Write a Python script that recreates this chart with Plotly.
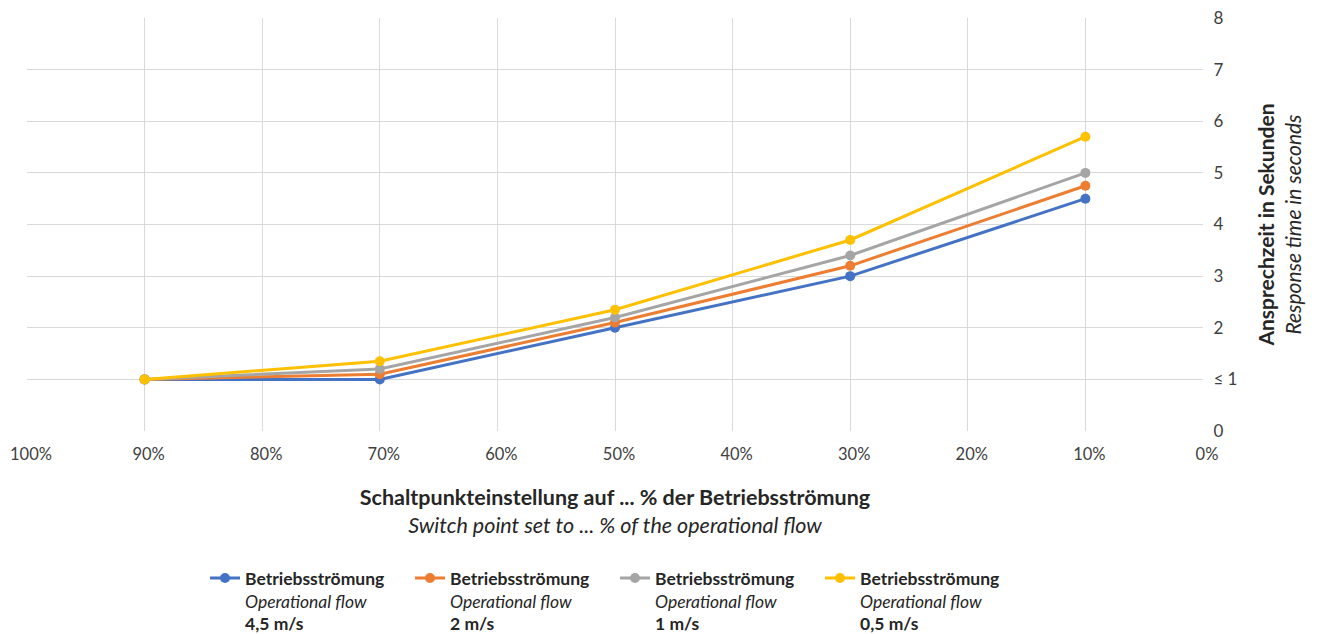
import plotly.graph_objects as go

x_vals = [90, 70, 50, 30, 10]
flow_45 = [1.0, 1.0, 2.0, 3.0, 4.5]
flow_2 = [1.0, 1.1, 2.1, 3.2, 4.75]
flow_1 = [1.0, 1.2, 2.2, 3.4, 5.0]
flow_05 = [1.0, 1.35, 2.35, 3.7, 5.7]

series_names = [
    "<b>Betriebsströmung</b><br><i>Operational flow</i><br><b>4,5 m/s</b>",
    "<b>Betriebsströmung</b><br><i>Operational flow</i><br><b>2 m/s</b>",
    "<b>Betriebsströmung</b><br><i>Operational flow</i><br><b>1 m/s</b>",
    "<b>Betriebsströmung</b><br><i>Operational flow</i><br><b>0,5 m/s</b>",
]
colors = ["#4472C4", "#ED7D31", "#A5A5A5", "#FFC000"]

y_tickvals = [0, 1, 2, 3, 4, 5, 6, 7, 8]
y_ticktext = ["0", "≤ 1", "2", "3", "4", "5", "6", "7", "8"]
x_tickvals = [100, 90, 80, 70, 60, 50, 40, 30, 20, 10, 0]
x_ticktext = ["100%", "90%", "80%", "70%", "60%", "50%", "40%", "30%", "20%", "10%", "0%"]

FONT = "Lato"
TXT = "#404040"

fig = go.Figure()
for name, ys, c in zip(series_names, [flow_45, flow_2, flow_1, flow_05], colors):
    fig.add_trace(go.Scatter(
        x=x_vals, y=ys, mode="lines+markers", name=name,
        line=dict(color=c, width=3), marker=dict(color=c, size=10),
    ))

fig.update_layout(
    width=1312, height=626,
    margin=dict(l=19, r=117, t=10, b=203),
    paper_bgcolor="white", plot_bgcolor="white",
    font=dict(family=FONT, size=17, color=TXT),
    showlegend=True,
    legend=dict(
        orientation="h", x=0.5, xanchor="center",
        yref="container", y=0.118, yanchor="top",
        font=dict(family=FONT, size=17.5, color="#262626"),
        valign="top", entrywidth=160, entrywidthmode="pixels",
        traceorder="normal",
    ),
    xaxis=dict(
        range=[100, 0], tickvals=x_tickvals, ticktext=x_ticktext,
        showgrid=True, gridcolor="#d9d9d9", gridwidth=1, automargin=False,
        zeroline=False, showline=False, ticks="outside", ticklen=8, tickcolor="rgba(0,0,0,0)",
        ticklabeloverflow="allow", ticklabelshift=-4,
        tickfont=dict(family=FONT, size=16.5, color=TXT),
        title=dict(
            text="<b>Schaltpunkteinstellung auf ... % der Betriebsströmung</b><br><i>Switch point set to ... % of the operational flow</i>",
            font=dict(family=FONT, size=21.5, color="#262626"), standoff=27,
        ),
    ),
    yaxis=dict(
        side="right", range=[0, 8], tickvals=y_tickvals, ticktext=y_ticktext,
        showgrid=True, gridcolor="#d9d9d9", gridwidth=1, automargin=False,
        zeroline=False, showline=False, ticks="outside", ticklen=6, tickcolor="rgba(0,0,0,0)",
        ticklabeloverflow="allow",
        tickfont=dict(family=FONT, size=17, color=TXT),
        title=dict(
            text="<b>Ansprechzeit in Sekunden</b><br><i>Response time in seconds</i>",
            font=dict(family=FONT, size=21, color="#262626"), standoff=22,
        ),
    ),
)

fig.write_html("out.html")
